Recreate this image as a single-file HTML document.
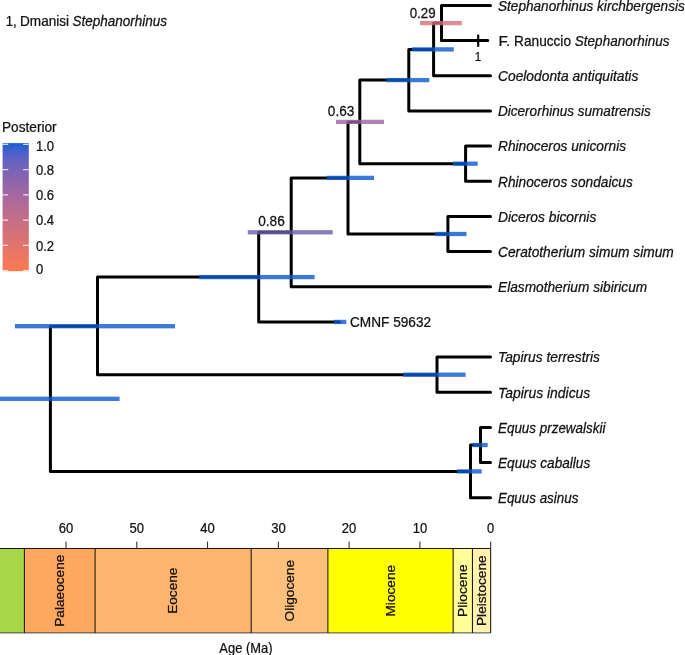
<!DOCTYPE html>
<html><head><meta charset="utf-8"><title>Phylogeny</title>
<style>html,body{margin:0;padding:0;background:#fff}svg{display:block}text{font-family:"Liberation Sans",Arial,Helvetica,sans-serif;font-size:14.0px;fill:#111;stroke:#111;stroke-width:0.25px}</style></head>
<body><svg width="685" height="655" viewBox="0 0 685 655">
<defs><linearGradient id="g" gradientUnits="userSpaceOnUse" x1="0" y1="144.4" x2="0" y2="270.6"><stop offset="0.00" stop-color="#1e5fd2"/><stop offset="0.05" stop-color="#4360cc"/><stop offset="0.10" stop-color="#5961c5"/><stop offset="0.15" stop-color="#6a62bf"/><stop offset="0.20" stop-color="#7863b9"/><stop offset="0.25" stop-color="#8464b3"/><stop offset="0.30" stop-color="#8f65ac"/><stop offset="0.35" stop-color="#9a67a6"/><stop offset="0.40" stop-color="#a368a0"/><stop offset="0.45" stop-color="#ac699a"/><stop offset="0.50" stop-color="#b56b93"/><stop offset="0.55" stop-color="#bd6c8d"/><stop offset="0.60" stop-color="#c56e87"/><stop offset="0.65" stop-color="#cc6f80"/><stop offset="0.70" stop-color="#d4717a"/><stop offset="0.75" stop-color="#db7273"/><stop offset="0.80" stop-color="#e2746c"/><stop offset="0.85" stop-color="#e87566"/><stop offset="0.90" stop-color="#ef775f"/><stop offset="0.95" stop-color="#f67857"/><stop offset="1.00" stop-color="#fc7a50"/></linearGradient></defs>
<rect width="685" height="655" fill="#fff"/>
<g><rect x="-2.00" y="548.5" width="26.40" height="84.4" fill="#A6D84A"/><rect x="24.40" y="548.5" width="70.70" height="84.4" fill="#FDA75F"/><rect x="95.10" y="548.5" width="156.10" height="84.4" fill="#FDB46C"/><rect x="251.20" y="548.5" width="76.70" height="84.4" fill="#FDC07A"/><rect x="327.90" y="548.5" width="125.25" height="84.4" fill="#FFFF00"/><rect x="453.15" y="548.5" width="19.30" height="84.4" fill="#FFFF99"/><rect x="472.45" y="548.5" width="18.20" height="84.4" fill="#FFF2AE"/><path d="M-2 632.9H490.65" stroke="#333" stroke-width="0.9" fill="none"/><path d="M24.40 548.5V632.9M95.10 548.5V632.9M251.20 548.5V632.9M327.90 548.5V632.9M453.15 548.5V632.9M472.45 548.5V632.9M490.65 548.5V632.9M-2 548.5H490.65" stroke="#1c140c" stroke-width="1.05" fill="none"/><text transform="translate(64.05 590.7) rotate(-90) scale(1.0200 1)" text-anchor="middle" style="font-size:13.4px">Palaeocene</text>
<text transform="translate(177.45 590.7) rotate(-90) scale(1.0200 1)" text-anchor="middle" style="font-size:13.4px">Eocene</text>
<text transform="translate(293.85 590.7) rotate(-90) scale(1.0200 1)" text-anchor="middle" style="font-size:13.4px">Oligocene</text>
<text transform="translate(394.82 590.7) rotate(-90) scale(1.0200 1)" text-anchor="middle" style="font-size:13.4px">Miocene</text>
<text transform="translate(467.10 590.7) rotate(-90) scale(1.0200 1)" text-anchor="middle" style="font-size:13.4px">Pliocene</text>
<text transform="translate(486.40 590.7) rotate(-90) scale(1.0200 1)" text-anchor="middle" style="font-size:13.4px">Pleistocene</text>
<path d="M490.70 541.6V548.5" stroke="#222" stroke-width="1"/><text transform="translate(490.7 533.1) scale(0.9326 1)" text-anchor="middle">0</text>
<path d="M419.92 541.6V548.5" stroke="#222" stroke-width="1"/><text transform="translate(419.9 533.1) scale(0.9326 1)" text-anchor="middle">10</text>
<path d="M349.14 541.6V548.5" stroke="#222" stroke-width="1"/><text transform="translate(349.1 533.1) scale(0.9326 1)" text-anchor="middle">20</text>
<path d="M278.36 541.6V548.5" stroke="#222" stroke-width="1"/><text transform="translate(278.4 533.1) scale(0.9326 1)" text-anchor="middle">30</text>
<path d="M207.58 541.6V548.5" stroke="#222" stroke-width="1"/><text transform="translate(207.6 533.1) scale(0.9326 1)" text-anchor="middle">40</text>
<path d="M136.80 541.6V548.5" stroke="#222" stroke-width="1"/><text transform="translate(136.8 533.1) scale(0.9326 1)" text-anchor="middle">50</text>
<path d="M66.02 541.6V548.5" stroke="#222" stroke-width="1"/><text transform="translate(66.0 533.1) scale(0.9326 1)" text-anchor="middle">60</text>
<text transform="translate(245.9 652.8) scale(0.9229 1)" text-anchor="middle">Age (Ma)</text>
</g>
<path d="M441.5 5.4V40.6M441.5 5.4H490.5M441.5 40.6H487.8M433.6 23.1H441.5M433.6 23.1V75.7M433.6 75.7H490.5M408.8 49.4H433.6M408.8 49.4V110.9M408.8 110.9H490.5M359.8 80.1H408.8M359.8 80.1V163.7M359.8 163.7H465.6M465.6 146.1V181.3M465.6 146.1H490.5M465.6 181.3H490.5M348.0 121.9H359.8M348.0 121.9V234.0M348.0 234.0H447.9M447.9 216.4V251.6M447.9 216.4H490.5M447.9 251.6H490.5M291.2 177.9H348.0M291.2 177.9V286.8M291.2 286.8H490.5M258.7 232.3H291.2M258.7 232.3V321.9M258.7 321.9H339.4M97.5 277.1H258.7M97.5 277.1V374.7M97.5 374.7H437.0M437.0 357.1V392.3M437.0 357.1H490.5M437.0 392.3H490.5M50.4 326.2H97.5M50.4 326.2V471.4M50.4 471.4H470.5M470.5 445.0V497.8M470.5 497.8H490.5M470.5 445.0H480.5M480.5 427.4V462.6M480.5 427.4H490.5M480.5 462.6H490.5" stroke="#000" stroke-width="3.0" stroke-linecap="round" stroke-linejoin="round" fill="none"/>
<path d="M478.2 34.6V46.8" stroke="#000" stroke-width="2.1" fill="none"/>
<g opacity="0.8"><rect x="420.0" y="20.95" width="41.8" height="4.3" fill="#d67278"/><rect x="412.0" y="47.25" width="41.8" height="4.3" fill="#0a5ad0"/><rect x="386.4" y="77.95" width="42.9" height="4.3" fill="#0a5ad0"/><rect x="336.0" y="119.75" width="48.0" height="4.3" fill="#9c65a3"/><rect x="453.0" y="161.52" width="24.7" height="4.3" fill="#0a5ad0"/><rect x="326.8" y="175.75" width="47.2" height="4.3" fill="#0a5ad0"/><rect x="435.0" y="231.85" width="31.5" height="4.3" fill="#0a5ad0"/><rect x="247.8" y="230.15" width="84.9" height="4.3" fill="#6e5aaf"/><rect x="199.2" y="274.95" width="115.4" height="4.3" fill="#0a5ad0"/><rect x="334.0" y="319.78" width="12.3" height="4.3" fill="#0a5ad0"/><rect x="403.0" y="372.54" width="62.6" height="4.3" fill="#0a5ad0"/><rect x="14.9" y="324.05" width="160.1" height="4.3" fill="#0a5ad0"/><rect x="-1.0" y="396.65" width="120.6" height="4.3" fill="#0a5ad0"/><rect x="472.5" y="442.88" width="15.2" height="4.3" fill="#0a5ad0"/><rect x="457.0" y="469.25" width="24.7" height="4.3" fill="#0a5ad0"/></g>
<g><rect x="2.6" y="143.1" width="26.2" height="128.1" fill="url(#g)"/><path d="M2.6 144.4h5.6M23.2 144.4h5.6" stroke="#fff" stroke-opacity="0.8" stroke-width="1.1"/><path d="M2.6 169.6h5.6M23.2 169.6h5.6" stroke="#fff" stroke-opacity="0.8" stroke-width="1.1"/><path d="M2.6 194.9h5.6M23.2 194.9h5.6" stroke="#fff" stroke-opacity="0.8" stroke-width="1.1"/><path d="M2.6 220.1h5.6M23.2 220.1h5.6" stroke="#fff" stroke-opacity="0.8" stroke-width="1.1"/><path d="M2.6 245.4h5.6M23.2 245.4h5.6" stroke="#fff" stroke-opacity="0.8" stroke-width="1.1"/><path d="M2.6 270.6h5.6M23.2 270.6h5.6" stroke="#fff" stroke-opacity="0.8" stroke-width="1.1"/></g>
<g><text transform="translate(498.0 10.7) scale(0.9722 1)"><tspan font-style="italic">Stephanorhinus kirchbergensis</tspan></text>
<text transform="translate(498.41 45.82) scale(1.0857 1)">F.</text>
<text transform="translate(514.12 45.82) scale(0.9754 1)">Ranuccio</text>
<text transform="translate(574.86 45.82) scale(0.9647 1)"><tspan font-style="italic">Stephanorhinus</tspan></text>
<text transform="translate(498.0 80.6) scale(0.9862 1)"><tspan font-style="italic">Coelodonta antiquitatis</tspan></text>
<text transform="translate(498.0 116.2) scale(0.9682 1)"><tspan font-style="italic">Dicerorhinus sumatrensis</tspan></text>
<text transform="translate(498.0 151.3) scale(0.9799 1)"><tspan font-style="italic">Rhinoceros unicornis</tspan></text>
<text transform="translate(498.0 186.5) scale(0.9787 1)"><tspan font-style="italic">Rhinoceros sondaicus</tspan></text>
<text transform="translate(498.0 221.7) scale(0.9882 1)"><tspan font-style="italic">Diceros bicornis</tspan></text>
<text transform="translate(498.0 256.8) scale(0.9832 1)"><tspan font-style="italic">Ceratotherium simum simum</tspan></text>
<text transform="translate(498.0 292.0) scale(0.9796 1)"><tspan font-style="italic">Elasmotherium sibiricum</tspan></text>
<text transform="translate(498.0 362.4) scale(0.9844 1)"><tspan font-style="italic">Tapirus terrestris</tspan></text>
<text transform="translate(498.0 397.5) scale(0.9949 1)"><tspan font-style="italic">Tapirus indicus</tspan></text>
<text transform="translate(498.0 432.7) scale(0.9594 1)"><tspan font-style="italic">Equus przewalskii</tspan></text>
<text transform="translate(498.0 467.9) scale(0.9714 1)"><tspan font-style="italic">Equus caballus</tspan></text>
<text transform="translate(498.0 503.0) scale(0.9575 1)"><tspan font-style="italic">Equus asinus</tspan></text>
<text transform="translate(350.0 326.9) scale(0.9744 1)">CMNF 59632</text>
<text transform="translate(5.63 26.05) scale(0.9400 1)">1,</text>
<text transform="translate(20.03 26.05) scale(0.9703 1)">Dmanisi</text>
<text transform="translate(72.46 26.05) scale(0.9657 1)"><tspan font-style="italic">Stephanorhinus</tspan></text>
<text transform="translate(477.9 60.9) scale(0.9 1)" text-anchor="middle" style="font-size:12.8px">1</text>
<text transform="translate(422.6 18.2) scale(0.9520 1)" text-anchor="middle">0.29</text>
<text transform="translate(341.1 116.4) scale(0.9714 1)" text-anchor="middle">0.63</text>
<text transform="translate(271.5 225.5) scale(0.9714 1)" text-anchor="middle">0.86</text>
<text transform="translate(2.0 132.0) scale(0.9763 1)">Posterior</text>
<text transform="translate(36.0 151.0) scale(0.9326 1)">1.0</text>
<text transform="translate(36.0 174.5) scale(0.9326 1)">0.8</text>
<text transform="translate(36.0 199.9) scale(0.9326 1)">0.6</text>
<text transform="translate(36.0 225.3) scale(0.9326 1)">0.4</text>
<text transform="translate(36.0 250.7) scale(0.9326 1)">0.2</text>
<text transform="translate(36.0 274.2) scale(0.9326 1)">0</text>
</g>
</svg></body></html>
